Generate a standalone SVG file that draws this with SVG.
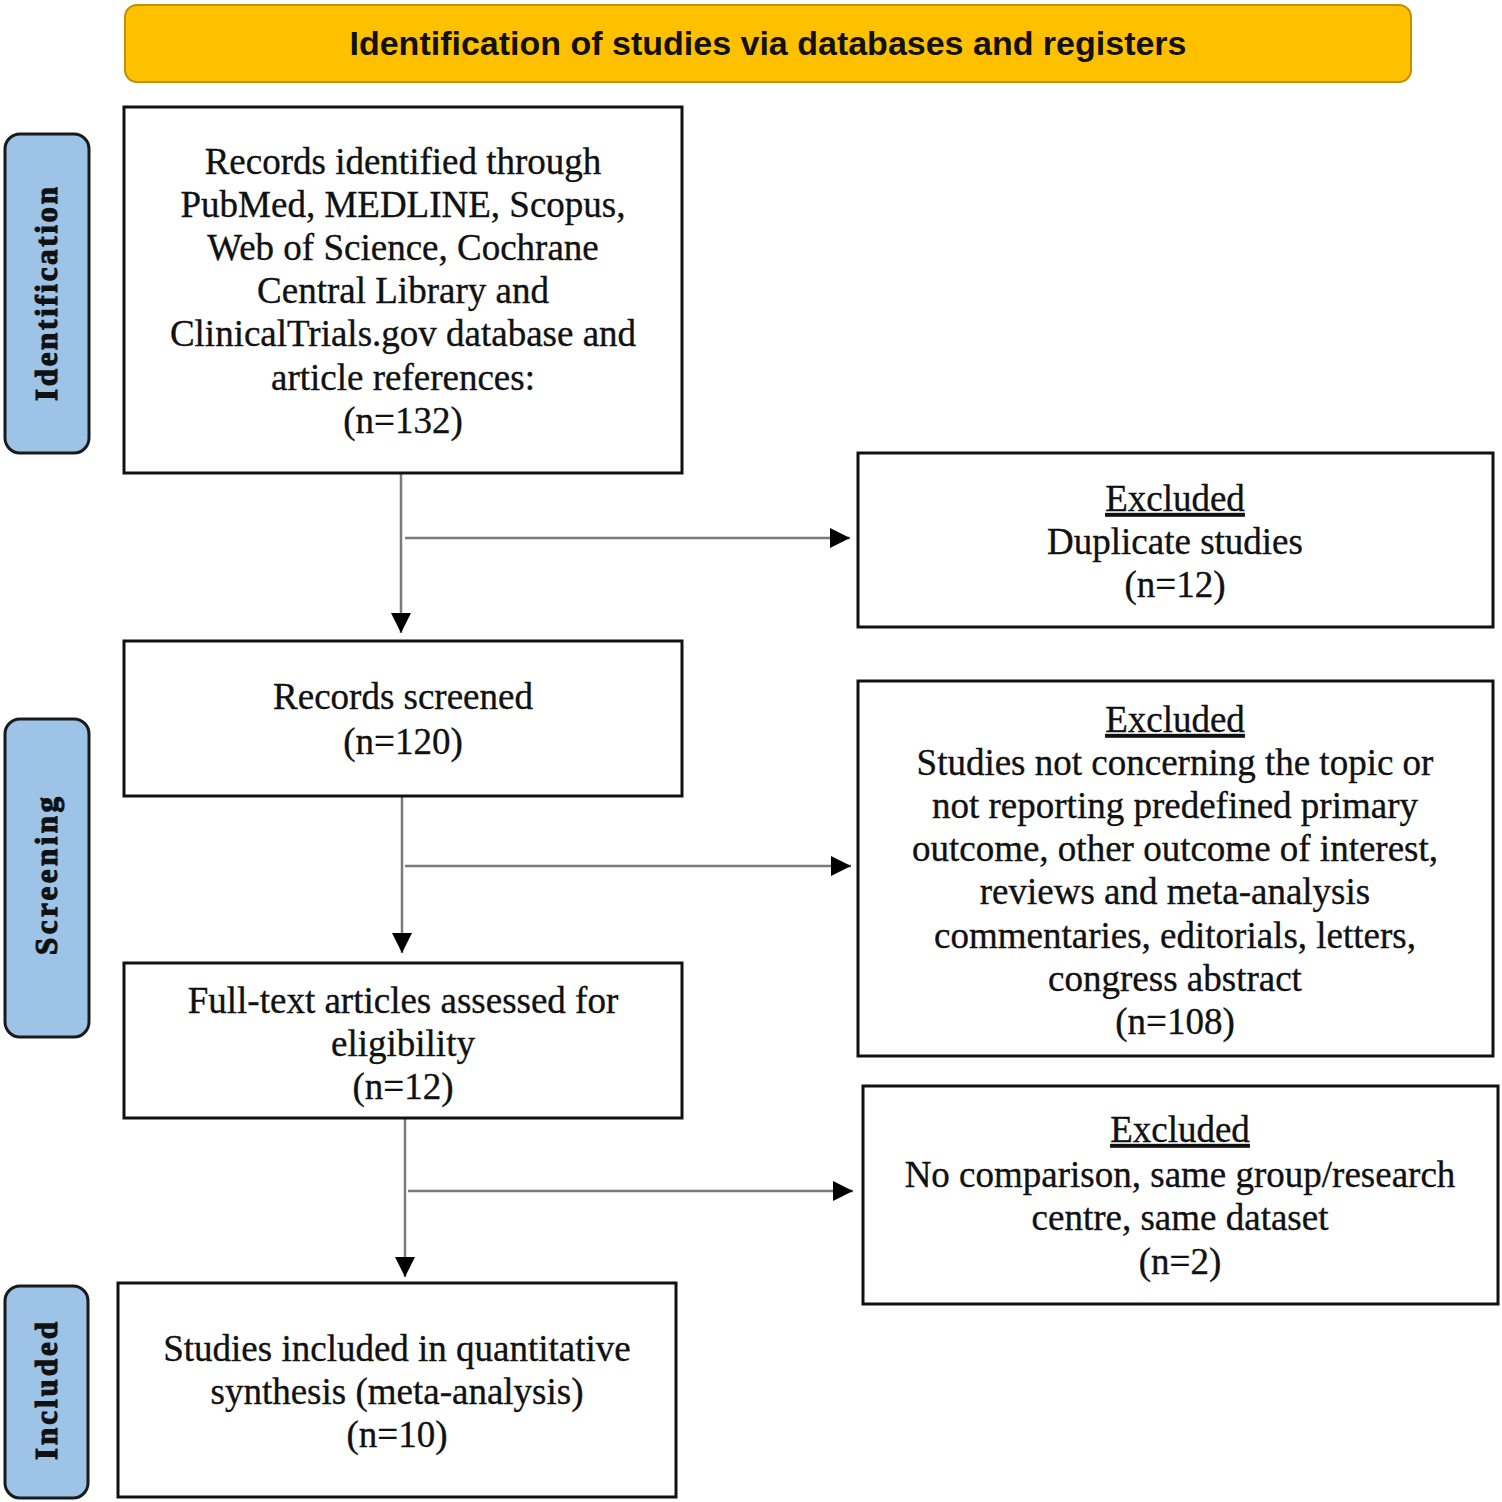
<svg xmlns="http://www.w3.org/2000/svg" width="1502" height="1502" viewBox="0 0 1502 1502">
<style>
.box{fill:#fff;stroke:#111;stroke-width:3}
.side{fill:#9DC3E6;stroke:#1a1a1a;stroke-width:3}
.t{font-family:"Liberation Serif","Times New Roman",serif;font-size:37px;fill:#111;stroke:#111;stroke-width:0.35;text-anchor:middle}
.st{font-family:"Liberation Serif","Times New Roman",serif;font-size:31px;font-weight:bold;fill:#111;stroke:#111;stroke-width:1.1;text-anchor:middle}
.u{text-decoration:underline}
.c{stroke:#7a7a7a;stroke-width:2.5;fill:none;marker-end:url(#ah)}
</style>
<defs>
<marker id="ah" markerUnits="userSpaceOnUse" markerWidth="22" markerHeight="22" refX="20" refY="10" orient="auto">
<path d="M0,0 L20,10 L0,20 Z" fill="#000"/>
</marker>
</defs>
<rect width="1502" height="1502" fill="#fff"/>
<g id="header">
<rect x="125" y="5" width="1286" height="77" rx="12" fill="#FFC000" stroke="#BF9000" stroke-width="2"/>
<text x="768" y="55" font-family="'Liberation Sans',Arial,sans-serif" font-size="34" font-weight="bold" fill="#111" text-anchor="middle">Identification of studies via databases and registers</text>
</g>
<g id="lane-identification">
<rect class="side" x="5" y="134" width="84" height="319" rx="15"/>
<text class="st" transform="translate(57,294) rotate(-90)" textLength="214" lengthAdjust="spacing">Identification</text>
</g>
<g id="lane-screening">
<rect class="side" x="5" y="719" width="84" height="318" rx="15"/>
<text class="st" transform="translate(57,876) rotate(-90)" textLength="158" lengthAdjust="spacing">Screening</text>
</g>
<g id="lane-included">
<rect class="side" x="5" y="1286" width="83" height="212" rx="15"/>
<text class="st" transform="translate(57,1391) rotate(-90)" textLength="138" lengthAdjust="spacing">Included</text>
</g>
<g id="connectors">
<line class="c" x1="401" y1="474" x2="401" y2="633"/>
<line class="c" x1="405" y1="538" x2="850" y2="538"/>
<line class="c" x1="402" y1="797" x2="402" y2="953"/>
<line class="c" x1="405" y1="866" x2="851" y2="866"/>
<line class="c" x1="405" y1="1119" x2="405" y2="1277"/>
<line class="c" x1="408" y1="1191" x2="853" y2="1191"/>
</g>
<g id="records-identified">
<rect class="box" x="124" y="107" width="558" height="366"/>
<text class="t" x="403" y="174">Records identified through</text>
<text class="t" x="403" y="217">PubMed, MEDLINE, Scopus,</text>
<text class="t" x="403" y="260">Web of Science, Cochrane</text>
<text class="t" x="403" y="303">Central Library and</text>
<text class="t" x="403" y="346">ClinicalTrials.gov database and</text>
<text class="t" x="403" y="390">article references:</text>
<text class="t" x="403" y="433">(n=132)</text>
</g>
<g id="records-screened">
<rect class="box" x="124" y="641" width="558" height="155"/>
<text class="t" x="403" y="709">Records screened</text>
<text class="t" x="403" y="754">(n=120)</text>
</g>
<g id="full-text">
<rect class="box" x="124" y="963" width="558" height="155"/>
<text class="t" x="403" y="1013">Full-text articles assessed for</text>
<text class="t" x="403" y="1056">eligibility</text>
<text class="t" x="403" y="1099">(n=12)</text>
</g>
<g id="included">
<rect class="box" x="118" y="1283" width="558" height="214"/>
<text class="t" x="397" y="1361">Studies included in quantitative</text>
<text class="t" x="397" y="1404">synthesis (meta-analysis)</text>
<text class="t" x="397" y="1447">(n=10)</text>
</g>
<g id="excluded-duplicates">
<rect class="box" x="858" y="453" width="635" height="174"/>
<text class="t u" x="1175" y="511">Excluded</text>
<text class="t" x="1175" y="554">Duplicate studies</text>
<text class="t" x="1175" y="597">(n=12)</text>
</g>
<g id="excluded-screening">
<rect class="box" x="858" y="681" width="635" height="375"/>
<text class="t u" x="1175" y="732">Excluded</text>
<text class="t" x="1175" y="775">Studies not concerning the topic or</text>
<text class="t" x="1175" y="818">not reporting predefined primary</text>
<text class="t" x="1175" y="861">outcome, other outcome of interest,</text>
<text class="t" x="1175" y="904">reviews and meta-analysis</text>
<text class="t" x="1175" y="948">commentaries, editorials, letters,</text>
<text class="t" x="1175" y="991">congress abstract</text>
<text class="t" x="1175" y="1034">(n=108)</text>
</g>
<g id="excluded-eligibility">
<rect class="box" x="863" y="1086" width="635" height="218"/>
<text class="t u" x="1180" y="1142">Excluded</text>
<text class="t" x="1180" y="1187">No comparison, same group/research</text>
<text class="t" x="1180" y="1230">centre, same dataset</text>
<text class="t" x="1180" y="1274">(n=2)</text>
</g>
</svg>
